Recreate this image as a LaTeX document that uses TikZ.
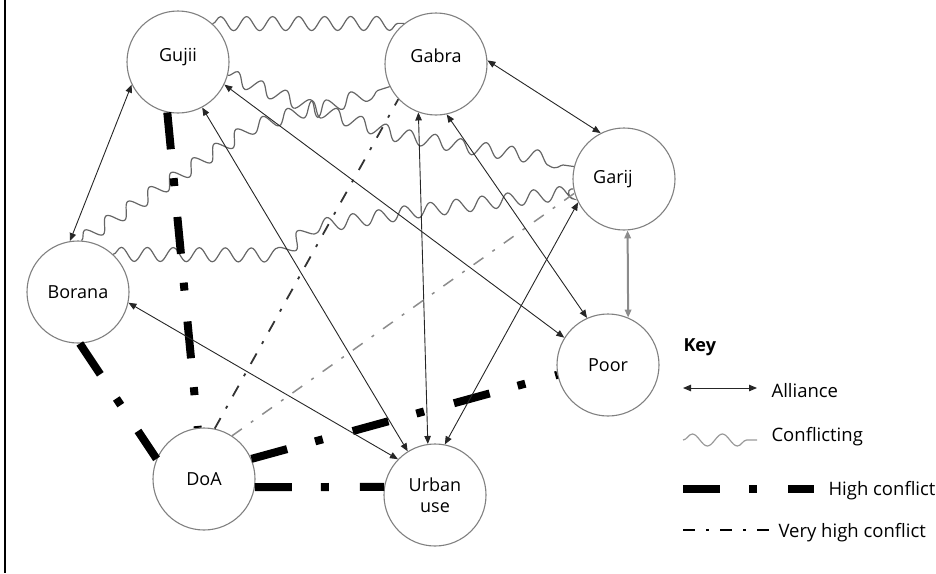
\documentclass[tikz,border=0pt]{standalone}
\usepackage{fontspec}
\setmainfont{Open Sans}
\usetikzlibrary{arrows.meta,decorations.pathmorphing}
\begin{document}
\begin{tikzpicture}[x=1pt,y=-1pt,
  actor/.style={circle,draw=black!50,line width=1.1pt,minimum size=102pt,inner sep=0pt,
    font=\fontsize{18}{21}\selectfont,align=center},
  ally/.style={{Triangle[length=8pt,width=6.5pt]}-{Triangle[length=8pt,width=6.5pt]},line width=0.9pt,draw=black!85},
  conflict/.style={decorate,decoration={snake,segment length=26pt,amplitude=7pt},draw=black!60,line width=1.2pt},
  highc/.style={line width=8pt,dash pattern=on 37pt off 29pt on 8pt off 31pt},
  vhighc/.style={line width=1.8pt,dash pattern=on 12pt off 11pt on 3pt off 11pt},
  keytext/.style={anchor=west,font=\fontsize{18.5}{21}\selectfont}
]
\useasboundingbox (0,0) rectangle (936,573);
\draw[line width=2pt] (5,0) -- (5,573);

% actors
\node[actor] (gujii)  at (178,62)  {Gujii\\[-6pt]\mbox{}};
\node[actor] (gabra)  at (436,64)  {Gabra\\[-4pt]\mbox{}};
\node[actor] (garij)  at (624,179) {Garij\hspace{22pt}};
\node[actor] (borana) at (78,292)  {Borana};
\node[actor] (poor)   at (608,365) {Poor};
\node[actor] (doa)    at (204,479) {DoA};
\node[actor] (urban)  at (435,495) {Urban\\use};

% conflicting (wavy)
\draw[conflict] (gujii.48) -- (gabra.128);
\draw[conflict] (gujii.-15) -- (318,110) -- (gabra.206);
\draw[conflict] (borana.86) -- (240,135) -- (312,112) -- (400,140) -- (470,152) -- (garij.166);
\draw[conflict] (borana.47) -- (265,255) -- (300,225) -- (400,210) -- (garij.191);

% high conflict
\draw[highc] (gujii.-102) -- (doa.97);
\draw[highc] (borana.-88) -- (doa.157);
\draw[highc] (doa.-9) -- (urban.171);
\draw[highc] (doa.23) -- (poor.191);

% very high conflict
\draw[vhighc,draw=black!80] (doa.78) -- (gabra.223);
\draw[vhighc,draw=black!45,line width=1.5pt] (doa.57) -- (garij.196);

% alliances
\draw[ally] (gujii.206) -- (borana.99);
\draw[ally] (gabra.4) -- (garij.117);
\draw[ally,draw=black!45,line width=2pt] (garij.-86) -- (poor.67);
\draw[ally] (gujii.-62) -- (urban.122);
\draw[ally] (gujii.-26) -- (poor.148);
\draw[ally] (borana.-12) -- (urban.136);
\draw[ally] (gabra.-110) -- (urban.98);
\draw[ally] (gabra.-78) -- (poor.114);
\draw[ally] (garij.207) -- (urban.79);

% key
\node[keytext,font=\fontsize{18}{21}\selectfont\bfseries] (keyt) at (680,347) {Key};
\coordinate (k1a) at (683,388); \coordinate (k1b) at (757,388);
\draw[ally] (k1a) -- (k1b);
\node[keytext] (k1t) at (768,391) {Alliance};
\coordinate (k2a) at (683,440); \coordinate (k2b) at (757,440);
\draw[decorate,decoration={snake,segment length=30pt,amplitude=6pt},draw=black!40,line width=1.2pt] (k2a) -- (k2b);
\node[keytext] (k2t) at (768,437) {Conflicting};
\coordinate (k3a) at (683,489); \coordinate (k3b) at (814,489);
\draw[highc] (k3a) -- (k3b);
\node[keytext] (k3t) at (825,491) {High conflict};
\coordinate (k4a) at (683,530); \coordinate (k4b) at (770,530);
\draw[vhighc] (k4a) -- (k4b);
\node[keytext] (k4t) at (775,533) {Very high conflict};
\end{tikzpicture}
\end{document}
